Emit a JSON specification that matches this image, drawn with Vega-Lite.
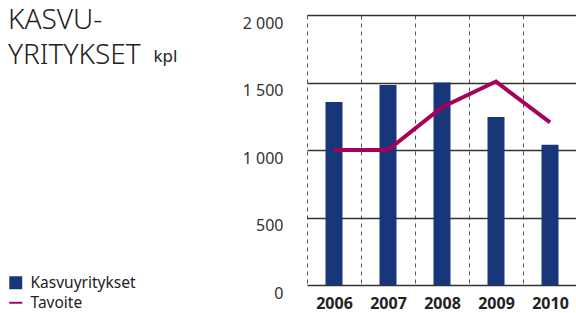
{
  "$schema": "https://vega.github.io/schema/vega-lite/v6.json",
  "autosize": {"type": "none"},
  "width": 270,
  "height": 270,
  "padding": {"left": 307, "top": 15, "right": 0, "bottom": 28},
  "background": "white",
  "config": {"view": {"stroke": null}, "font": "Noto Sans"},
  "title": {
    "text": ["KASVU-", "YRITYKSET"],
    "anchor": "start",
    "frame": "group",
    "orient": "top",
    "baseline": "top",
    "offset": 0,
    "dx": -299,
    "dy": 55,
    "fontSize": 28,
    "fontWeight": 300,
    "lineHeight": 35,
    "color": "#222222",
    "font": "Noto Sans"
  },
  "data": {
    "values": [
      {"year": "2006", "series": "Kasvuyritykset", "value": 1356},
      {"year": "2007", "series": "Kasvuyritykset", "value": 1482},
      {"year": "2008", "series": "Kasvuyritykset", "value": 1500},
      {"year": "2009", "series": "Kasvuyritykset", "value": 1245},
      {"year": "2010", "series": "Kasvuyritykset", "value": 1038},
      {"year": "2006", "series": "Tavoite", "value": 1000},
      {"year": "2007", "series": "Tavoite", "value": 1000},
      {"year": "2008", "series": "Tavoite", "value": 1317},
      {"year": "2009", "series": "Tavoite", "value": 1507},
      {"year": "2010", "series": "Tavoite", "value": 1204}
    ]
  },
  "encoding": {
    "x": {
      "field": "year",
      "type": "ordinal",
      "scale": {"paddingInner": 0, "paddingOuter": 0},
      "axis": {
        "title": null,
        "domain": false,
        "ticks": false,
        "grid": true,
        "tickBand": "extent",
        "gridDash": [4, 4],
        "gridColor": "#555555",
        "gridWidth": 1,
        "gridOpacity": 1,
        "labelAngle": 0,
        "labelFontSize": 16,
        "labelFontWeight": "bold",
        "labelColor": "#222222",
        "labelPadding": 10
      }
    },
    "y": {
      "field": "value",
      "type": "quantitative",
      "scale": {"domain": [0, 2000], "nice": false},
      "axis": {
        "title": "kpl",
        "titleAngle": 0,
        "titleX": -154,
        "titleY": 46,
        "titleAlign": "left",
        "titleBaseline": "alphabetic",
        "titleFontSize": 17,
        "titleFontWeight": "normal",
        "titleColor": "#222222",
        "values": [0, 500, 1000, 1500, 2000],
        "labelExpr": "replace(format(datum.value, ','), ',', ' ')",
        "domain": false,
        "ticks": false,
        "grid": true,
        "gridColor": "#333333",
        "gridWidth": 1.4,
        "gridOpacity": 1,
        "labelFontSize": 16,
        "labelColor": "#333333",
        "labelPadding": 24,
        "labelOffset": 8
      }
    },
    "color": {
      "field": "series",
      "type": "nominal",
      "scale": {"domain": ["Kasvuyritykset", "Tavoite"], "range": ["#17377a", "#a5005a"]},
      "legend": {
        "title": null,
        "orient": "none",
        "legendX": -299,
        "legendY": 260,
        "labelFontSize": 15.5,
        "labelColor": "#222222",
        "symbolSize": 169,
        "symbolOffset": 0,
        "labelOffset": 7,
        "rowPadding": 3,
        "encode": {
          "symbols": {
            "update": {
              "shape": {"signal": "datum.value === 'Tavoite' ? 'M-1,-0.15H1V0.15H-1Z' : 'square'"},
              "strokeWidth": {"value": 0},
              "opacity": {"value": 1}
            }
          }
        }
      }
    }
  },
  "layer": [
    {
      "transform": [{"filter": "datum.series === 'Kasvuyritykset'"}],
      "mark": {"type": "bar", "size": 17}
    },
    {
      "transform": [{"filter": "datum.series === 'Tavoite'"}],
      "mark": {"type": "line", "strokeWidth": 4}
    }
  ]
}
